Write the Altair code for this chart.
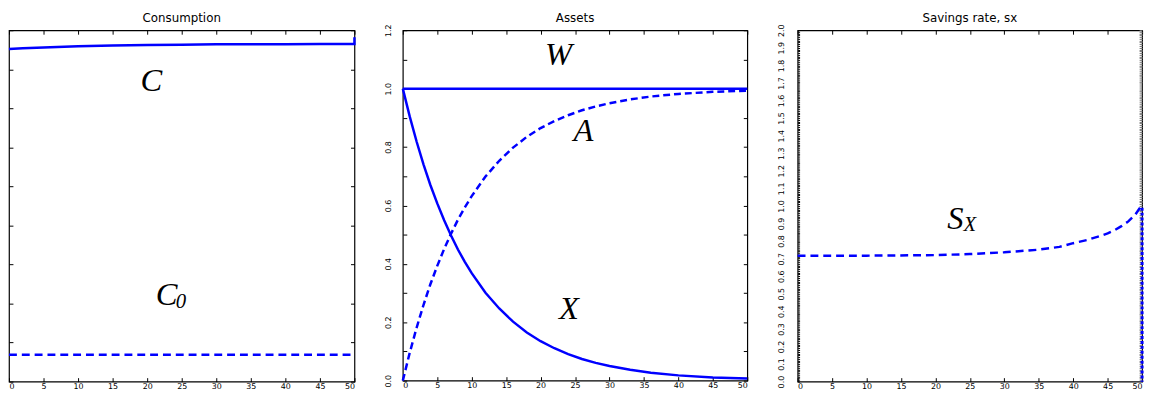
import altair as alt
import pandas as pd

BLUE = "#0000ff"

# ---------- Panel 1: Consumption ----------
c_t = [0, 2, 5, 10, 15, 20, 25, 30, 35, 40, 45, 50, 50]
c_v = [0.852, 0.854, 0.856, 0.859, 0.861, 0.862, 0.863, 0.864, 0.864, 0.864, 0.865, 0.865, 0.882]
c0_t = [0, 50]
c0_v = [0.069, 0.069]

# ---------- Panel 2: Assets ----------
asset_t = [0, 1, 2, 3, 4, 5, 6, 7, 8, 9, 10, 12, 14, 16, 18, 20, 22, 24, 26, 28, 30, 33, 36, 40, 45, 50]
x_vals = [1.0, 0.905, 0.819, 0.741, 0.670, 0.607, 0.549, 0.497, 0.449, 0.407, 0.368, 0.301, 0.247,
          0.202, 0.165, 0.135, 0.111, 0.091, 0.074, 0.061, 0.050, 0.037, 0.027, 0.018, 0.011, 0.007]
a_vals = [0.0, 0.095, 0.181, 0.259, 0.330, 0.393, 0.451, 0.503, 0.551, 0.593, 0.632, 0.699, 0.753,
          0.798, 0.835, 0.865, 0.889, 0.909, 0.926, 0.939, 0.950, 0.963, 0.973, 0.982, 0.989, 0.993]
w_t = [0, 50]
w_v = [1.0, 1.0]

# ---------- Panel 3: Savings rate ----------
sx_t = [0, 10, 20, 25, 30, 35, 38, 40, 42, 44, 45, 46, 47, 48, 49, 49.7]
sx_v = [0.717, 0.717, 0.720, 0.726, 0.736, 0.751, 0.767, 0.788, 0.806, 0.830, 0.844, 0.862,
        0.885, 0.912, 0.950, 0.990]
drop_t = [50, 50]
drop_v = [0.99, 0.0]

# ---------- Labels ----------
lab1 = {"t": [20.6, 22.8], "v": [0.77, 0.222], "txt": ["C", "C"]}
sub1 = {"t": [24.9], "v": [0.205], "txt": ["0"]}
lab2 = {"t": [22.6, 26.2, 24.1], "v": [1.116, 0.854, 0.245], "txt": ["W", "A", "X"]}
lab3 = {"t": [22.9], "v": [0.927], "txt": ["S"]}
sub3 = {"t": [25.0], "v": [0.89], "txt": ["X"]}

x_ticks = list(range(0, 51, 5))
y1_ticks = [round(i * 0.1, 1) for i in range(0, 10)]
y2_ticks = [round(i * 0.1, 1) for i in range(0, 13)]
y3_ticks = [round(i * 0.1, 1) for i in range(0, 21)]
y3_fine = [round(i * 0.01, 2) for i in range(0, 201)]

LABEL_FONT = "DejaVu Sans"
SERIF = "Liberation Serif"


def ax(orient, values, labels=False, offset=0, tick=4, angle=None, expr=None, size=9,
       color="#000", tw=1, pad=2):
    kw = dict(orient=orient, values=values, labels=labels, domain=False, grid=False,
              title=None, ticks=tick > 0, tickSize=tick, tickColor=color, tickWidth=tw,
              labelFont=LABEL_FONT, labelFontSize=size, labelColor="#000", labelPadding=pad)
    if offset:
        kw["offset"] = offset
    if angle is not None:
        kw["labelAngle"] = angle
    if expr is not None:
        kw["labelExpr"] = expr
    return alt.Axis(**kw)


def panel(title, W, H, ydom, layers_spec, yticks, ylabels, yexpr=None, ysize=8, ypad=2,
          left_ticks=None, right_ticks=None, left_tick_size=4, right_tick_size=4,
          right_color="#000", title_offset=6):
    xs = alt.Scale(domain=[0, 50], nice=False, zero=False)
    ys = alt.Scale(domain=ydom, nice=False, zero=False)
    lt = left_ticks if left_ticks is not None else yticks
    rt = right_ticks if right_ticks is not None else yticks
    axis_sets = [
        (ax("bottom", x_ticks, labels=True, tick=0, size=8, pad=1),
         ax("left", yticks, labels=ylabels, tick=0, angle=270, expr=yexpr, size=ysize, pad=ypad)
         if ylabels else None),
        (ax("bottom", x_ticks, offset=-H, tick=4),
         ax("left", rt, offset=-W, tick=right_tick_size, color=right_color)),
        (ax("top", x_ticks, offset=-H, tick=4),
         ax("right", lt, offset=-W, tick=left_tick_size)),
    ]
    layers = []
    for i, (df, mk) in enumerate(layers_spec):
        if i < len(axis_sets):
            xa, ya = axis_sets[i]
        else:
            xa, ya = None, None
        enc = dict(
            x=alt.X("t:Q", scale=xs, axis=xa),
            y=alt.Y("v:Q", scale=ys, axis=ya),
        )
        if "order" in df.columns:
            enc["order"] = alt.Order("order:Q")
        if "txt" in df.columns:
            enc["text"] = alt.Text("txt:N")
        layers.append(mk(alt.Chart(df)).encode(**enc))
    ch = alt.layer(*layers).resolve_axis(x="independent", y="independent").properties(
        width=W, height=H,
        title=alt.TitleParams(title, font=LABEL_FONT, fontSize=12, fontWeight="normal",
                              color="#000", offset=title_offset))
    return ch


def line(dash=None, width=2.5):
    def f(c):
        kw = dict(color=BLUE, strokeWidth=width, clip=False)
        if dash:
            kw["strokeDash"] = dash
        return c.mark_line(**kw)
    return f


def text(size):
    def f(c):
        return c.mark_text(font=SERIF, fontSize=size, fontStyle="italic", color="#000",
                           baseline="middle", align="center")
    return f


df_c = pd.DataFrame({"t": c_t, "v": c_v, "order": list(range(len(c_t)))})
df_c0 = pd.DataFrame({"t": c0_t, "v": c0_v})
p1 = panel("Consumption", 350, 356, [0, 0.9], [
    (df_c, line()),
    (df_c0, line([8, 5])),
    (pd.DataFrame(lab1), text(33)),
    (pd.DataFrame(sub1), text(21)),
], y1_ticks, ylabels=False, title_offset=5)

df_x = pd.DataFrame({"t": asset_t, "v": x_vals})
df_a = pd.DataFrame({"t": asset_t, "v": a_vals})
df_w = pd.DataFrame({"t": w_t, "v": w_v})
p2 = panel("Assets", 349, 355, [0, 1.2], [
    (df_x, line()),
    (df_a, line([7, 4])),
    (df_w, line()),
    (pd.DataFrame(lab2), text(33)),
], y2_ticks, ylabels=True, ypad=10,
    yexpr="round(datum.value*10) % 2 == 0 ? format(datum.value, '.1f') : ''", title_offset=-1)

df_sx = pd.DataFrame({"t": sx_t, "v": sx_v})
df_drop = pd.DataFrame({"t": drop_t, "v": drop_v})
p3 = panel("Savings rate, sx", 349, 356, [0, 2.0], [
    (df_sx, line([8, 5])),
    (df_drop, line([3, 2], width=3)),
    (pd.DataFrame(lab3), text(33)),
    (pd.DataFrame(sub3), text(21)),
], y3_ticks, ylabels=True, yexpr="format(datum.value, '.1f')", ysize=8, ypad=12,
    left_ticks=y3_fine, right_ticks=y3_fine, left_tick_size=2, right_tick_size=3,
    right_color="#777", title_offset=-1)

chart = alt.hconcat(p1, p2, p3, spacing=24).properties(
    padding={"left": -5, "top": 0, "right": 0, "bottom": 0}
).configure_view(stroke="#000", strokeWidth=1.2)

chart.save("out.html", embed_options={"renderer": "svg", "actions": False})
